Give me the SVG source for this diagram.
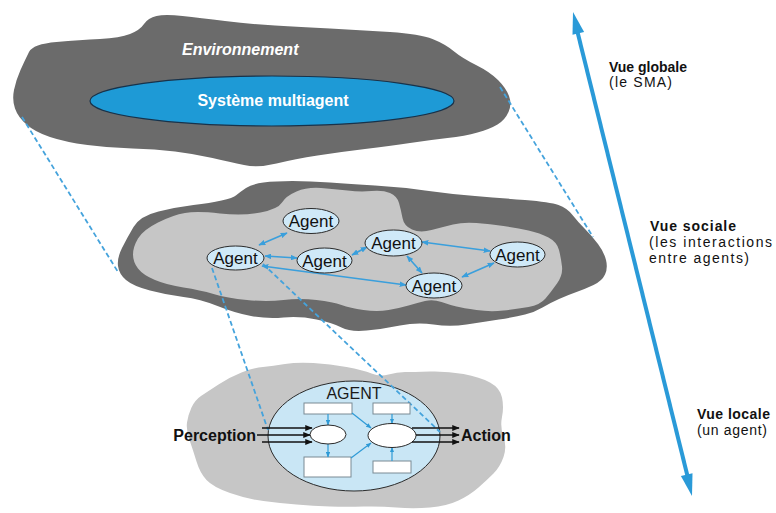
<svg xmlns="http://www.w3.org/2000/svg" width="776" height="513" viewBox="0 0 776 513">
  <style>
    .dark { fill: #6b6b6b; }
    .light { fill: #c6c6c6; }
    .dash { fill: none; stroke: #45a3dc; stroke-width: 1.8; stroke-dasharray: 5 3; }
    .link { fill: none; stroke: #3a9fdc; stroke-width: 1.6; marker-start: url(#ah); marker-end: url(#ah); }
    .agent { fill: #cfe9f8; stroke: #2a2a2a; stroke-width: 1; }
    .agent-t { font-family: "Liberation Sans", Arial, sans-serif; font-size: 17px; fill: #111; text-anchor: middle; }
    .box { fill: #ffffff; stroke: #7a8a94; stroke-width: 1; }
    .inner { fill: none; stroke: #2e9ad6; stroke-width: 1.2; marker-end: url(#sh); }
    .io { fill: none; stroke: #111; stroke-width: 1.3; marker-end: url(#bk); }
    .lbl-b { font-family: "Liberation Sans", Arial, sans-serif; font-size: 14px; font-weight: bold; fill: #111; }
    .lbl { font-family: "Liberation Sans", Arial, sans-serif; font-size: 14px; fill: #111; }
  </style>
  <defs>
    <marker id="ah" viewBox="0 0 10 8" refX="9" refY="4" markerWidth="7" markerHeight="5.6" markerUnits="userSpaceOnUse" orient="auto-start-reverse">
      <path d="M0,0 L10,4 L0,8 z" fill="#3a9fdc"/>
    </marker>
    <marker id="sh" viewBox="0 0 10 8" refX="9" refY="4" markerWidth="5.5" markerHeight="4.4" markerUnits="userSpaceOnUse" orient="auto">
      <path d="M0,0 L10,4 L0,8 z" fill="#2e9ad6"/>
    </marker>
    <marker id="bk" viewBox="0 0 10 8" refX="9" refY="4" markerWidth="8" markerHeight="6" markerUnits="userSpaceOnUse" orient="auto">
      <path d="M0,0 L10,4 L0,8 z" fill="#111"/>
    </marker>
  </defs>

  <rect width="776" height="513" fill="#ffffff"/>

  <!-- global level: environment cloud with the multi-agent system -->
  <g id="environnement">
    <path class="dark" d="M29,52 Q33,44 56.5,42 Q80,40 100,39 Q120,38 130,34 Q140,30 144,24 Q148,18 156.5,16 Q165,14 182.5,16 Q200,18 225,21 Q250,24 275,25.5 Q300,27 330,28.5 Q360,30 390,32 Q420,34 432.5,39 Q445,44 453.5,51 Q462,58 476,65 Q490,72 498,80 Q506,88 509,96 Q512,104 508.5,112 Q505,120 497.5,124.5 Q490,129 477.5,132.5 Q465,136 447.5,138 Q430,140 410,143 Q390,146 365,149 Q340,152 317.5,155.5 Q295,159 276.5,163.5 Q258,168 244,165 Q230,162 212.5,158 Q195,154 175,151.5 Q155,149 132.5,148.5 Q110,148 87.5,145 Q65,142 50,137 Q35,132 26.5,124.5 Q18,117 15,108.5 Q12,100 14,90 Q16,80 20.5,70 Q25,60 29,52 Z"/>
    <text x="182" y="55" font-family="Liberation Sans, Arial, sans-serif" font-size="16" font-weight="bold" font-style="italic" fill="#ffffff">Environnement</text>
  </g>
  <g id="sma">
    <ellipse cx="272" cy="101" rx="182" ry="25" fill="#1e9ad6" stroke="#18324a" stroke-width="1.2"/>
    <text x="273" y="106" text-anchor="middle" font-family="Liberation Sans, Arial, sans-serif" font-size="16" font-weight="bold" fill="#ffffff">Système multiagent</text>
  </g>

  <!-- social level -->
  <g id="societe">
    <path class="dark" d="M236.5,195 Q240,192 246,188 Q252,184 263.5,182.5 Q275,181 292.5,181 Q310,181 330,182.5 Q350,184 375,185.5 Q400,187 425,190.5 Q450,194 475,196 Q500,198 525,200 Q550,202 558.5,205 Q567,208 572.5,215 Q578,222 585,229 Q592,236 598,244 Q604,252 606,260 Q608,268 605,274.5 Q602,281 593.5,285 Q585,289 576.5,292 Q568,295 559,299 Q550,303 542.5,307.5 Q535,312 525,314.5 Q515,317 499,319.5 Q483,322 466.5,324.5 Q450,327 433.5,324.5 Q417,322 400,325.5 Q383,329 366.5,330.5 Q350,332 341.5,327.5 Q333,323 316.5,319.5 Q300,316 283.5,317.5 Q267,319 251,316 Q235,313 217.5,306 Q200,299 183.5,297 Q167,295 150,290.5 Q133,286 126,280 Q119,274 118,266 Q117,258 122,248 Q127,238 133.5,227 Q140,216 158.5,211.5 Q177,207 193.5,205 Q210,203 221.5,200.5 Q233,198 236.5,195 Z"/>
    <path class="light" d="M133,254.5 Q133,247 138,238.5 Q143,230 158,222.5 Q173,215 185,213 Q197,211 220,213.5 Q243,216 260.5,212.5 Q278,209 282,202.5 Q286,196 296.5,191.5 Q307,187 321,188 Q335,189 347.5,190.5 Q360,192 371.5,191 Q383,190 390,193 Q397,196 399,203 Q401,210 402.5,218 Q404,226 412,229.5 Q420,233 431.5,230 Q443,227 453,224.5 Q463,222 476.5,223 Q490,224 503.5,226 Q517,228 528.5,230.5 Q540,233 548.5,237.5 Q557,242 559,250 Q561,258 562,266.5 Q563,275 557,283.5 Q551,292 545.5,298.5 Q540,305 528.5,307 Q517,309 503.5,310.5 Q490,312 476.5,310 Q463,308 456.5,306.5 Q450,305 441.5,302 Q433,299 425,301 Q417,303 408.5,305.5 Q400,308 388.5,310 Q377,312 363.5,310 Q350,308 341.5,305 Q333,302 316.5,300 Q300,298 283.5,300 Q267,302 247,300 Q227,298 213.5,294 Q200,290 183.5,287.5 Q167,285 155,280 Q143,275 138,268.5 Q133,262 133,254.5 Z"/>
  </g>

  <!-- local level: one agent -->
  <g id="local">
    <path class="light" d="M218.5,384.5 Q230,377 241.5,372.5 Q253,368 263,367 Q273,366 285,364 Q297,362 313.5,363 Q330,364 346.5,367 Q363,370 371.5,373.5 Q380,377 388.5,374.5 Q397,372 405,372 Q413,372 430,371.5 Q447,371 463.5,374 Q480,377 490,382.5 Q500,388 502,397.5 Q504,407 502,417 Q500,427 503.5,437 Q507,447 503.5,457 Q500,467 493.5,473.5 Q487,480 478.5,487.5 Q470,495 458.5,500.5 Q447,506 430,507.5 Q413,509 396.5,507.5 Q380,506 363.5,506.5 Q347,507 330,506.5 Q313,506 296.5,504.5 Q280,503 263.5,501 Q247,499 230,493 Q213,487 206.5,480 Q200,473 196.5,461.5 Q193,450 189.5,440 Q186,430 187,422.5 Q188,415 191.5,407.5 Q195,400 201,396 Q207,392 218.5,384.5 Z"/>
    <ellipse cx="354" cy="436" rx="86" ry="55" fill="#c9e6f5" stroke="#2a2a2a" stroke-width="1"/>
    <text x="354" y="399" text-anchor="middle" font-family="Liberation Sans, Arial, sans-serif" font-size="16" fill="#1a1a1a">AGENT</text>
  </g>

  <!-- projection lines between levels -->
  <g id="projections">
    <line class="dash" x1="22" y1="117" x2="118" y2="272"/>
    <line class="dash" x1="500" y1="87" x2="593" y2="237"/>
    <line class="dash" x1="212" y1="268" x2="268" y2="430"/>
    <line class="dash" x1="263" y1="264" x2="440" y2="432"/>
  </g>

  <!-- interactions between agents -->
  <g id="connecteurs">
    <line class="link" x1="259" y1="245" x2="287" y2="233"/>
    <line class="link" x1="265" y1="256" x2="297" y2="258"/>
    <line class="link" x1="352" y1="255" x2="367" y2="247"/>
    <line class="link" x1="422" y1="242" x2="490" y2="251"/>
    <line class="link" x1="407" y1="256" x2="422" y2="273"/>
    <line class="link" x1="494" y1="263" x2="462" y2="277"/>
    <line class="link" x1="262" y1="266" x2="406" y2="285"/>
  </g>

  <g id="agent-1">
    <ellipse class="agent" cx="311" cy="221" rx="28" ry="12.5"/>
    <text class="agent-t" x="311" y="227">Agent</text>
  </g>
  <g id="agent-2">
    <ellipse class="agent" cx="235.5" cy="258" rx="28.5" ry="12"/>
    <text class="agent-t" x="235.5" y="264">Agent</text>
  </g>
  <g id="agent-3">
    <ellipse class="agent" cx="324.5" cy="260.5" rx="27.5" ry="12.5"/>
    <text class="agent-t" x="324.5" y="266.5">Agent</text>
  </g>
  <g id="agent-4">
    <ellipse class="agent" cx="393.5" cy="243" rx="28.5" ry="13"/>
    <text class="agent-t" x="393.5" y="249">Agent</text>
  </g>
  <g id="agent-5">
    <ellipse class="agent" cx="517.5" cy="254.5" rx="27.5" ry="12.5"/>
    <text class="agent-t" x="517.5" y="260.5">Agent</text>
  </g>
  <g id="agent-6">
    <ellipse class="agent" cx="434" cy="285.5" rx="28" ry="12.5"/>
    <text class="agent-t" x="434" y="291.5">Agent</text>
  </g>

  <!-- internal structure of the agent -->
  <g id="agent-interne">
    <rect class="box" x="304" y="403" width="48" height="11"/>
    <rect class="box" x="373" y="403" width="37" height="11"/>
    <rect class="box" x="304" y="457" width="47" height="20"/>
    <rect class="box" x="373" y="461" width="38" height="12"/>
    <line class="inner" x1="328" y1="414" x2="328" y2="425"/>
    <line class="inner" x1="328" y1="444" x2="328" y2="457"/>
    <line class="inner" x1="352" y1="413" x2="371" y2="428"/>
    <line class="inner" x1="351" y1="458" x2="371" y2="443"/>
    <line class="inner" x1="392" y1="414" x2="392" y2="423.5"/>
    <line class="inner" x1="392" y1="461" x2="392" y2="447.5"/>
    <ellipse cx="328" cy="434.5" rx="18" ry="9.5" fill="#ffffff" stroke="#2a2a2a" stroke-width="1"/>
    <ellipse cx="392" cy="435.5" rx="24" ry="12" fill="#ffffff" stroke="#2a2a2a" stroke-width="1"/>
  </g>

  <g id="perception">
    <line class="io" x1="262" y1="428" x2="312" y2="428"/>
    <line class="io" x1="257" y1="435" x2="310" y2="435"/>
    <line class="io" x1="262" y1="442" x2="312" y2="442"/>
    <text x="256" y="441" text-anchor="end" font-family="Liberation Sans, Arial, sans-serif" font-size="16" font-weight="bold" fill="#111">Perception</text>
  </g>
  <g id="action">
    <line class="io" x1="412" y1="428" x2="459" y2="428"/>
    <line class="io" x1="416" y1="435" x2="459" y2="435"/>
    <line class="io" x1="412" y1="442" x2="459" y2="442"/>
    <text x="461" y="441" font-family="Liberation Sans, Arial, sans-serif" font-size="16" font-weight="bold" fill="#111">Action</text>
  </g>

  <!-- scale of views -->
  <g id="echelle">
    <line x1="577" y1="30" x2="688" y2="478" stroke="#2a9ad8" stroke-width="4"/>
    <polygon points="573,12 584.1,32 572.5,34.8" fill="#2a9ad8"/>
    <polygon points="692,496 692.5,473.2 680.9,476" fill="#2a9ad8"/>
  </g>
  <g id="vue-globale">
    <text class="lbl-b" x="609" y="72" textLength="78" lengthAdjust="spacing">Vue globale</text>
    <text class="lbl" x="609" y="87" textLength="63" lengthAdjust="spacing">(le SMA)</text>
  </g>
  <g id="vue-sociale">
    <text class="lbl-b" x="650" y="231" textLength="86" lengthAdjust="spacing">Vue sociale</text>
    <text class="lbl" x="649" y="247" textLength="123" lengthAdjust="spacing">(les interactions</text>
    <text class="lbl" x="649" y="263" textLength="100" lengthAdjust="spacing">entre agents)</text>
  </g>
  <g id="vue-locale">
    <text class="lbl-b" x="697" y="419" textLength="73" lengthAdjust="spacing">Vue locale</text>
    <text class="lbl" x="697" y="435" textLength="70" lengthAdjust="spacing">(un agent)</text>
  </g>
</svg>
